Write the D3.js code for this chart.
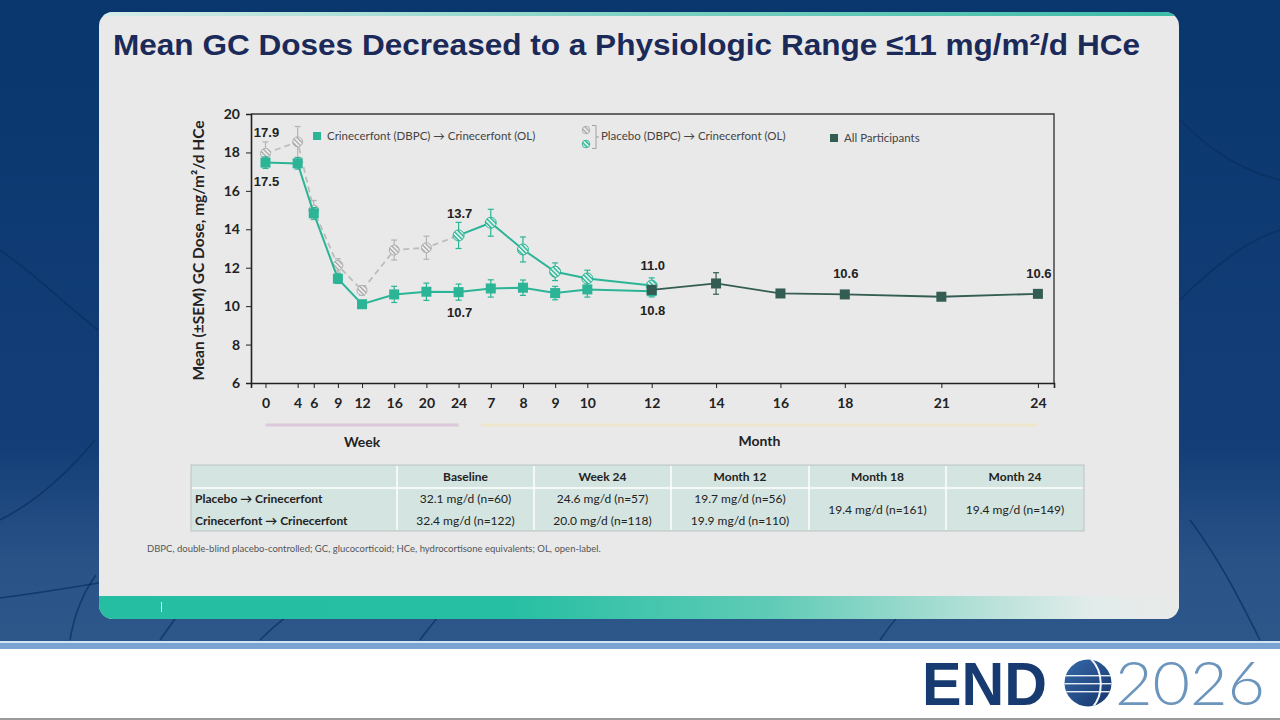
<!DOCTYPE html>
<html>
<head>
<meta charset="utf-8">
<script src="https://cdn.jsdelivr.net/npm/d3@7"></script>
<style>
  body { margin: 0; background: #fff; }
  svg { display: block; }
</style>
</head>
<body>
<script>
// time points: weeks during the DBPC phase, months during OL
var weekTicks = [0, 4, 6, 9, 12, 16, 20, 24];
var monthTicks = [7, 8, 9, 10, 12, 14, 16, 18, 21, 24];

// Crinecerfont (DBPC) -> Crinecerfont (OL)
var crinWeekMean = [17.47, 17.43, 14.83, 11.43, 10.1, 10.61, 10.75, 10.73];
var crinWeekSem = [0.3, 0.3, 0.3, 0.25, 0.15, 0.42, 0.45, 0.42];
var crinMonths = [7, 8, 9, 10, 12];
var crinMonthMean = [10.92, 10.96, 10.68, 10.87, 10.78];
var crinMonthSem = [0.45, 0.4, 0.35, 0.4, 0.3];

// Placebo (DBPC) -> Crinecerfont (OL)
var plaWeekMean = [17.95, 18.55, 15.0, 12.12, 10.82, 12.92, 13.04, 13.68];
var plaWeekSem = [0.6, 0.8, 0.5, 0.35, 0.25, 0.52, 0.6, 0.68];
var plaMonths = [7, 8, 9, 10, 12];
var plaMonthMean = [14.34, 12.95, 11.79, 11.44, 11.07];
var plaMonthSem = [0.7, 0.65, 0.46, 0.43, 0.4];

// All participants
var allMonths = [12, 14, 16, 18, 21, 24];
var allMean = [10.85, 11.18, 10.66, 10.61, 10.49, 10.64];
var allSem = [0.22, 0.56, 0.08, 0.08, 0.08, 0.08];

// value labels
var valueLabels = [
  {t: "17.9", m: 0, v: 17.9, pos: "above"},
  {t: "17.5", m: 0, v: 17.5, pos: "below"},
  {t: "13.7", m: 6, v: 13.7, pos: "above"},
  {t: "10.7", m: 6, v: 10.7, pos: "below"},
  {t: "11.0", m: 12, v: 11.0, pos: "above"},
  {t: "10.8", m: 12, v: 10.8, pos: "below"},
  {t: "10.6", m: 18, v: 10.6, pos: "above"},
  {t: "10.6", m: 24, v: 10.6, pos: "above"}
];

var yTicks = [6, 8, 10, 12, 14, 16, 18, 20];

// table
var tableHeaders = ["Baseline", "Week 24", "Month 12", "Month 18", "Month 24"];
var tableRowLabels = ["Placebo \u2192 Crinecerfont", "Crinecerfont \u2192 Crinecerfont"];
var tablePlacebo = ["32.1 mg/d (n=60)", "24.6 mg/d (n=57)", "19.7 mg/d (n=56)"];
var tableCrin = ["32.4 mg/d (n=122)", "20.0 mg/d (n=118)", "19.9 mg/d (n=110)"];
var tableAll = ["19.4 mg/d (n=161)", "19.4 mg/d (n=149)"];

var W = 1280, H = 720;
var teal = "#2bb596", dark = "#335d52", grey = "#b4b4b4";

var svg = d3.select("body").append("svg")
    .attr("width", W).attr("height", H);
var defs = svg.append("defs");

//background gradient
var bg = defs.append("linearGradient").attr("id", "bg")
    .attr("x1", 0).attr("y1", 0).attr("x2", 0).attr("y2", 1);
bg.append("stop").attr("offset", "0%").attr("stop-color", "#0a366e");
bg.append("stop").attr("offset", "70%").attr("stop-color", "#133e77");
bg.append("stop").attr("offset", "88%").attr("stop-color", "#2a5488");
bg.append("stop").attr("offset", "100%").attr("stop-color", "#2d5789");

var band = defs.append("linearGradient").attr("id", "band");
band.append("stop").attr("offset", "0%").attr("stop-color", "#25bea2");
band.append("stop").attr("offset", "38%").attr("stop-color", "#26bfa3");
band.append("stop").attr("offset", "62%").attr("stop-color", "#5fcbb6");
band.append("stop").attr("offset", "92%").attr("stop-color", "#e2ecea");
band.append("stop").attr("offset", "100%").attr("stop-color", "#e9eaea");

var topEdge = defs.append("linearGradient").attr("id", "topEdge");
topEdge.append("stop").attr("offset", "0%").attr("stop-color", "#d6ece8");
topEdge.append("stop").attr("offset", "50%").attr("stop-color", "#7fd1c2");
topEdge.append("stop").attr("offset", "100%").attr("stop-color", "#3bbba6");

var globe = defs.append("linearGradient").attr("id", "globe")
    .attr("x1", 0).attr("y1", 0).attr("x2", 1).attr("y2", 1);
globe.append("stop").attr("offset", "0%").attr("stop-color", "#3a6fb0");
globe.append("stop").attr("offset", "100%").attr("stop-color", "#132f63");

//hatch patterns for placebo markers
function hatch(id, bgc, fg) {
  var p = defs.append("pattern").attr("id", id)
      .attr("patternUnits", "userSpaceOnUse")
      .attr("width", 3.2).attr("height", 3.2)
      .attr("patternTransform", "rotate(-45)");
  p.append("rect").attr("width", 3.2).attr("height", 3.2).attr("fill", bgc);
  p.append("rect").attr("width", 1.4).attr("height", 3.2).attr("fill", fg);
}
hatch("hGrey", "#f0f0f0", "#a9a9a9");
hatch("hTeal", "#dff3ee", teal);

svg.append("rect").attr("width", W).attr("height", 642).attr("fill", "url(#bg)");

//faint veins in the background
var veins = [
  "M0,520 C40,500 70,470 95,440",
  "M0,598 C60,590 120,580 200,565",
  "M70,640 C75,610 85,590 96,575",
  "M160,640 C170,625 180,612 190,600",
  "M260,640 C280,620 300,605 320,598",
  "M420,640 C430,626 440,615 450,602",
  "M880,640 C890,625 900,612 915,600",
  "M1180,300 C1220,260 1250,240 1280,230",
  "M1190,520 C1220,560 1240,600 1260,640",
  "M1180,120 C1210,150 1240,170 1280,180",
  "M0,250 C30,270 60,300 98,330"
];
svg.append("g").selectAll("path").data(veins).enter().append("path")
    .attr("d", function(d){ return d; })
    .attr("fill", "none").attr("stroke", "#0a2d5e")
    .attr("stroke-width", 1.6).attr("opacity", 0.7);

//light stripe and white footer
svg.append("rect").attr("y", 641).attr("width", W).attr("height", 2).attr("fill", "#d2e4f4");
svg.append("rect").attr("y", 643).attr("width", W).attr("height", 6).attr("fill", "#7aa3d2");
svg.append("rect").attr("y", 649).attr("width", W).attr("height", 69).attr("fill", "#ffffff");
svg.append("rect").attr("y", 718).attr("width", W).attr("height", 2).attr("fill", "#9a9a9a");

//slide card
defs.append("clipPath").attr("id", "card")
  .append("rect").attr("x", 99).attr("y", 12).attr("width", 1080).attr("height", 607).attr("rx", 14);
var card = svg.append("g").attr("clip-path", "url(#card)");
card.append("rect").attr("x", 99).attr("y", 12).attr("width", 1080).attr("height", 607).attr("fill", "#e9e9e9");
card.append("rect").attr("x", 99).attr("y", 12).attr("width", 1080).attr("height", 4).attr("fill", "url(#topEdge)");
card.append("rect").attr("x", 99).attr("y", 596).attr("width", 1080).attr("height", 23).attr("fill", "url(#band)");
card.append("rect").attr("x", 161).attr("y", 602).attr("width", 1).attr("height", 10).attr("fill", "#d9f3ee");

//title
svg.append("text").attr("x", 113).attr("y", 55)
    .attr("font-family", "Liberation Sans, Arial, sans-serif")
    .attr("font-weight", "bold").attr("font-size", 30)
    .attr("fill", "#1b2a58")
    .attr("textLength", 1027).attr("lengthAdjust", "spacingAndGlyphs")
    .text("Mean GC Doses Decreased to a Physiologic Range \u226411 mg/m\u00b2/d HCe");

//scales
var x = d3.scaleLinear().domain([-0.45, 24.5]).range([251, 1054]);
var y = d3.scaleLinear().domain([6, 20]).range([383, 114]);
function wk(w){ return w / 4; } // weeks on the month scale

var ticks = weekTicks.map(function(w){ return {m: wk(w), t: String(w)}; })
  .concat(monthTicks.map(function(m){ return {m: m, t: String(m)}; }));

var chart = svg.append("g").attr("font-family", "Lato, sans-serif");

//frame
chart.append("path")
    .attr("d", "M" + x.range()[0] + "," + y(20) + "H" + x.range()[1] + "V" + y(6))
    .attr("fill", "none").attr("stroke", "#3a3a3a").attr("stroke-width", 1.4);

//y axis
var yAxis = chart.append("g").attr("transform", "translate(" + x.range()[0] + ",0)")
    .call(d3.axisLeft(y).tickValues(yTicks).tickSize(5).tickPadding(6));
yAxis.select(".domain").attr("stroke", "#222").attr("stroke-width", 1.6);
yAxis.selectAll(".tick line").attr("stroke", "#222");
yAxis.selectAll(".tick text").attr("font-family", "Lato, sans-serif")
    .attr("font-weight", "bold").attr("font-size", 14).attr("fill", "#222");

//x axis
var xAxis = chart.append("g").attr("transform", "translate(0," + y(6) + ")")
    .call(d3.axisBottom(x).tickValues(ticks.map(function(d){ return d.m; }))
      .tickFormat(function(d, i){ return ticks[i].t; }).tickSize(5).tickPadding(10));
xAxis.select(".domain").attr("stroke", "#222").attr("stroke-width", 1.6);
xAxis.selectAll(".tick line").attr("stroke", "#222");
xAxis.selectAll(".tick text").attr("font-family", "Lato, sans-serif")
    .attr("font-weight", "bold").attr("font-size", 14).attr("fill", "#222");

//y title
chart.append("text")
    .attr("transform", "translate(204," + ((y(6) + y(20)) / 2 + 2) + ") rotate(-90)")
    .attr("text-anchor", "middle").attr("font-weight", "bold").attr("font-size", 15.5)
    .attr("fill", "#222")
    .text("Mean (\u00b1SEM) GC Dose, mg/m\u00b2/d HCe");

//week / month brackets
chart.append("line").attr("x1", x(0)).attr("x2", x(6)).attr("y1", 425).attr("y2", 425)
    .attr("stroke", "#dcc8d8").attr("stroke-width", 3);
chart.append("line").attr("x1", x(6.7)).attr("x2", x(24)).attr("y1", 425).attr("y2", 425)
    .attr("stroke", "#ede6cc").attr("stroke-width", 3);
chart.append("text").attr("x", (x(0) + x(6)) / 2).attr("y", 447).attr("text-anchor", "middle")
    .attr("font-weight", "bold").attr("font-size", 14).attr("fill", "#222").text("Week");
chart.append("text").attr("x", (x(6.7) + x(24)) / 2).attr("y", 446).attr("text-anchor", "middle")
    .attr("font-weight", "bold").attr("font-size", 14).attr("fill", "#222").text("Month");

//build point lists
function pts(ms, means, sems) {
  return ms.map(function(m, i){ return {m: m, v: means[i], s: sems[i]}; });
}
var crin = pts(weekTicks.map(wk), crinWeekMean, crinWeekSem)
  .concat(pts(crinMonths, crinMonthMean, crinMonthSem));
var plaDb = pts(weekTicks.map(wk), plaWeekMean, plaWeekSem);
var plaOl = [plaDb[plaDb.length - 1]].concat(pts(plaMonths, plaMonthMean, plaMonthSem));
var all = pts(allMonths, allMean, allSem);

var line = d3.line().x(function(d){ return x(d.m); }).y(function(d){ return y(d.v); });

function errorBars(data, color) {
  var g = chart.append("g").attr("stroke", color).attr("stroke-width", 1.2);
  data.forEach(function(d){
    var cx = x(d.m), y1 = y(d.v + d.s), y2 = y(d.v - d.s);
    g.append("line").attr("x1", cx).attr("x2", cx).attr("y1", y1).attr("y2", y2);
    g.append("line").attr("x1", cx - 3).attr("x2", cx + 3).attr("y1", y1).attr("y2", y1);
    g.append("line").attr("x1", cx - 3).attr("x2", cx + 3).attr("y1", y2).attr("y2", y2);
  });
}

//placebo DBPC (grey dashed)
errorBars(plaDb.slice(0, -1), grey);
chart.append("path").datum(plaDb).attr("d", line).attr("fill", "none")
    .attr("stroke", "#bdbdbd").attr("stroke-width", 1.8).attr("stroke-dasharray", "6,4");
chart.append("g").selectAll("circle").data(plaDb.slice(0, -1)).enter().append("circle")
    .attr("cx", function(d){ return x(d.m); }).attr("cy", function(d){ return y(d.v); })
    .attr("r", 5).attr("fill", "url(#hGrey)").attr("stroke", "#b0b0b0").attr("stroke-width", 1);

//crinecerfont (teal squares)
errorBars(crin, teal);
chart.append("path").datum(crin).attr("d", line).attr("fill", "none")
    .attr("stroke", teal).attr("stroke-width", 2);
chart.append("g").selectAll("rect").data(crin).enter().append("rect")
    .attr("x", function(d){ return x(d.m) - 5; }).attr("y", function(d){ return y(d.v) - 5; })
    .attr("width", 10).attr("height", 10).attr("fill", teal);

//placebo -> OL (teal hatched)
errorBars(plaOl, teal);
chart.append("path").datum(plaOl).attr("d", line).attr("fill", "none")
    .attr("stroke", teal).attr("stroke-width", 2);
chart.append("g").selectAll("circle").data(plaOl).enter().append("circle")
    .attr("cx", function(d){ return x(d.m); }).attr("cy", function(d){ return y(d.v); })
    .attr("r", 5.5).attr("fill", "url(#hTeal)").attr("stroke", teal).attr("stroke-width", 1);

//all participants
errorBars(all, dark);
chart.append("path").datum(all).attr("d", line).attr("fill", "none")
    .attr("stroke", dark).attr("stroke-width", 1.8);
chart.append("g").selectAll("rect").data(all).enter().append("rect")
    .attr("x", function(d){ return x(d.m) - 5; }).attr("y", function(d){ return y(d.v) - 5; })
    .attr("width", 10).attr("height", 10).attr("fill", dark);

//value labels
chart.append("g").selectAll("text").data(valueLabels).enter().append("text")
    .attr("x", function(d){ return x(d.m) + 1; })
    .attr("y", function(d){ return d.pos === "above" ? y(d.v) - 17 : y(d.v) + 24; })
    .attr("text-anchor", "middle")
    .attr("font-family", "Liberation Sans, Arial, sans-serif")
    .attr("font-weight", "bold").attr("font-size", 13).attr("fill", "#222")
    .text(function(d){ return d.t; });

//legend
var lg = chart.append("g").attr("font-size", 11.5).attr("fill", "#444");
lg.append("rect").attr("x", 313).attr("y", 132).attr("width", 8).attr("height", 8).attr("fill", teal);
lg.append("text").attr("x", 327).attr("y", 140).text("Crinecerfont (DBPC) \u2192 Crinecerfont (OL)");
lg.append("circle").attr("cx", 586).attr("cy", 130).attr("r", 3.8)
    .attr("fill", "url(#hGrey)").attr("stroke", "#aaa").attr("stroke-width", 0.9);
lg.append("circle").attr("cx", 586).attr("cy", 144).attr("r", 3.8)
    .attr("fill", "url(#hTeal)").attr("stroke", teal).attr("stroke-width", 0.9);
lg.append("path").attr("d", "M592,125.5H596V148.5H592M596,137H599")
    .attr("fill", "none").attr("stroke", "#999").attr("stroke-width", 0.9);
lg.append("text").attr("x", 601).attr("y", 140).text("Placebo (DBPC) \u2192 Crinecerfont (OL)");
lg.append("rect").attr("x", 830).attr("y", 134).attr("width", 8).attr("height", 8).attr("fill", dark);
lg.append("text").attr("x", 844).attr("y", 142).text("All Participants");

//table
var colX = [191, 397, 534, 671, 809, 946, 1084];
var tb = svg.append("g").attr("font-family", "Lato, sans-serif").attr("font-size", 12).attr("fill", "#222");
tb.append("rect").attr("x", colX[0]).attr("y", 465).attr("width", colX[6] - colX[0]).attr("height", 66)
    .attr("fill", "#d4e4e0").attr("stroke", "#b9c6c3").attr("stroke-width", 1);
colX.slice(1, -1).forEach(function(cx){
  tb.append("line").attr("x1", cx).attr("x2", cx).attr("y1", 466).attr("y2", 530)
    .attr("stroke", "#ffffff").attr("stroke-width", 1.5);
});
tb.append("line").attr("x1", colX[0] + 1).attr("x2", colX[6] - 1).attr("y1", 488).attr("y2", 488)
    .attr("stroke", "#ffffff").attr("stroke-width", 1.5);
tableHeaders.forEach(function(h, i){
  tb.append("text").attr("x", (colX[i + 1] + colX[i + 2]) / 2).attr("y", 481)
    .attr("text-anchor", "middle").attr("font-weight", "bold").text(h);
});
tableRowLabels.forEach(function(r, i){
  tb.append("text").attr("x", 195).attr("y", 503 + i * 22).attr("font-weight", "bold").text(r);
});
[tablePlacebo, tableCrin].forEach(function(row, r){
  row.forEach(function(c, i){
    tb.append("text").attr("x", (colX[i + 1] + colX[i + 2]) / 2).attr("y", 503 + r * 22)
      .attr("text-anchor", "middle").text(c);
  });
});
tableAll.forEach(function(c, i){
  tb.append("text").attr("x", (colX[i + 4] + colX[i + 5]) / 2).attr("y", 514)
    .attr("text-anchor", "middle").text(c);
});

//footnote
svg.append("text").attr("x", 147).attr("y", 552)
    .attr("font-family", "Lato, sans-serif").attr("font-size", 9.5).attr("fill", "#555")
    .text("DBPC, double-blind placebo-controlled; GC, glucocorticoid; HCe, hydrocortisone equivalents; OL, open-label.");

//ENDO 2026 logo
var logo = svg.append("g");
logo.append("text").attr("x", 922).attr("y", 705)
    .attr("font-family", "Liberation Sans, Arial, sans-serif").attr("font-weight", "bold")
    .attr("font-size", 62).attr("fill", "#173b70")
    .attr("textLength", 125).attr("lengthAdjust", "spacingAndGlyphs").text("END");
defs.append("clipPath").attr("id", "gclip")
  .append("circle").attr("cx", 1088).attr("cy", 683).attr("r", 23.5);
var gl = logo.append("g").attr("clip-path", "url(#gclip)");
gl.append("rect").attr("x", 1060).attr("y", 656).attr("width", 56).attr("height", 56).attr("fill", "url(#globe)");
[675, 683, 691].forEach(function(yy){
  gl.append("rect").attr("x", 1060).attr("y", yy).attr("width", 56).attr("height", 1.4).attr("fill", "#e8eef6");
});
gl.append("path").attr("d", "M1090,658 C1104,671 1104,695 1092,708")
    .attr("fill", "none").attr("stroke", "#f2f6fb").attr("stroke-width", 2);
logo.append("text").attr("x", 1115).attr("y", 705)
    .attr("font-family", "Lato, sans-serif").attr("font-weight", 300)
    .attr("font-size", 62).attr("fill", "#6b95bd")
    .attr("textLength", 150).attr("lengthAdjust", "spacingAndGlyphs").text("2026");
</script>
</body>
</html>
